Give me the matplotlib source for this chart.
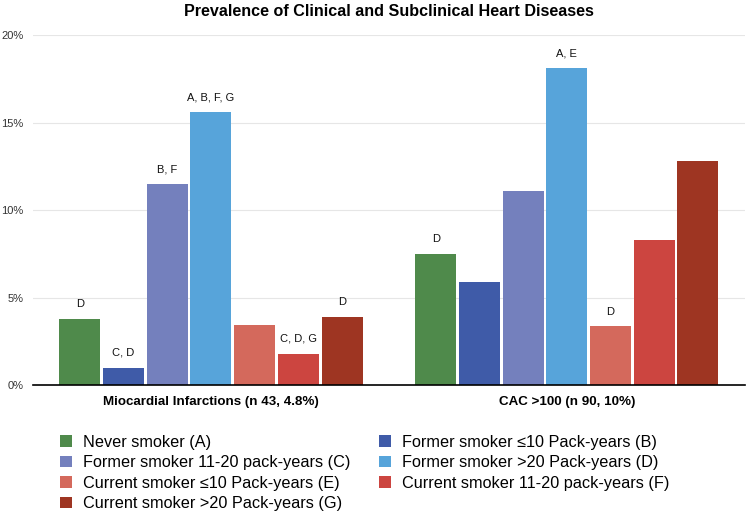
import matplotlib
matplotlib.use("Agg")
import matplotlib.pyplot as plt
import numpy as np
from matplotlib.patches import Patch

plt.rcParams['font.family'] = ['Liberation Sans', 'DejaVu Sans']

groups = ["Miocardial Infarctions (n 43, 4.8%)", "CAC >100 (n 90, 10%)"]
series = ["Never smoker (A)", "Former smoker \u226410 Pack-years (B)",
          "Former smoker 11-20 pack-years (C)", "Former smoker >20 Pack-years (D)",
          "Current smoker \u226410 Pack-years (E)", "Current smoker 11-20 pack-years (F)",
          "Current smoker >20 Pack-years (G)"]
mi_values = [3.8, 1.0, 11.5, 15.6, 3.45, 1.8, 3.9]
cac_values = [7.5, 5.9, 11.1, 18.1, 3.35, 8.3, 12.8]
mi_labels = ["D", "C, D", "B, F", "A, B, F, G", "", "C, D, G", "D"]
cac_labels = ["D", "", "", "A, E", "D", "", ""]
yticks = [0, 5, 10, 15, 20]

colors = ["#4F8A4B", "#3F5BA8", "#7480BD", "#57A4DA", "#D4695C", "#CC4540", "#9E3522"]

fig = plt.figure(figsize=(7.47, 5.12), dpi=100)
ax = fig.add_axes([0.0442, 0.248, 0.9528, 0.6836])

pitch = 0.1228
width = 0.115
x = np.arange(len(groups))
vals = np.array([mi_values, cac_values])
labs = [mi_labels, cac_labels]
for i, s in enumerate(series):
    off = (i - 3) * pitch
    ax.bar(x + off, vals[:, i], width=width, color=colors[i], zorder=3, label=s)
    for g in range(len(groups)):
        t = labs[g][i]
        if t:
            ax.text(x[g] + off, vals[g, i] + 0.55, t, ha='center', va='bottom',
                    fontsize=8, color='#111111')

ax.set_xlim(-0.5, 1.5)
ax.set_ylim(0, 20)
ax.set_yticks(yticks)
ax.set_yticklabels([f"{v}%" for v in yticks], fontsize=8, color='#333333')
ax.set_xticks(x)
ax.set_xticklabels(groups, fontsize=9.6, fontweight='bold')
ax.tick_params(axis='both', length=0)
ax.tick_params(axis='x', pad=8)
ax.tick_params(axis='y', pad=7)
ax.grid(axis='y', color='#E6E6E6', linewidth=0.8, zorder=0)
for sp in ['top', 'right', 'left']:
    ax.spines[sp].set_visible(False)
ax.spines['bottom'].set_color('black')
ax.spines['bottom'].set_linewidth(1.2)
ax.spines['bottom'].set_zorder(4)

fig.text(0.52, 0.978, "Prevalence of Clinical and Subclinical Heart Diseases",
         ha='center', va='center', fontsize=11.6, fontweight='bold')

order = [0, 2, 4, 6, 1, 3, 5]
handles = [Patch(facecolor=colors[i], edgecolor='none') for i in order]
labels = [series[i] for i in order]
fig.legend(handles, labels, ncol=2, loc='upper left', bbox_to_anchor=(0.0803, 0.151),
           frameon=False, fontsize=11.7, handlelength=0.74, handleheight=0.74,
           handletextpad=0.68, columnspacing=1.78, labelspacing=0.34, borderpad=0,
           borderaxespad=0)

fig.savefig("out.png", dpi=100)
